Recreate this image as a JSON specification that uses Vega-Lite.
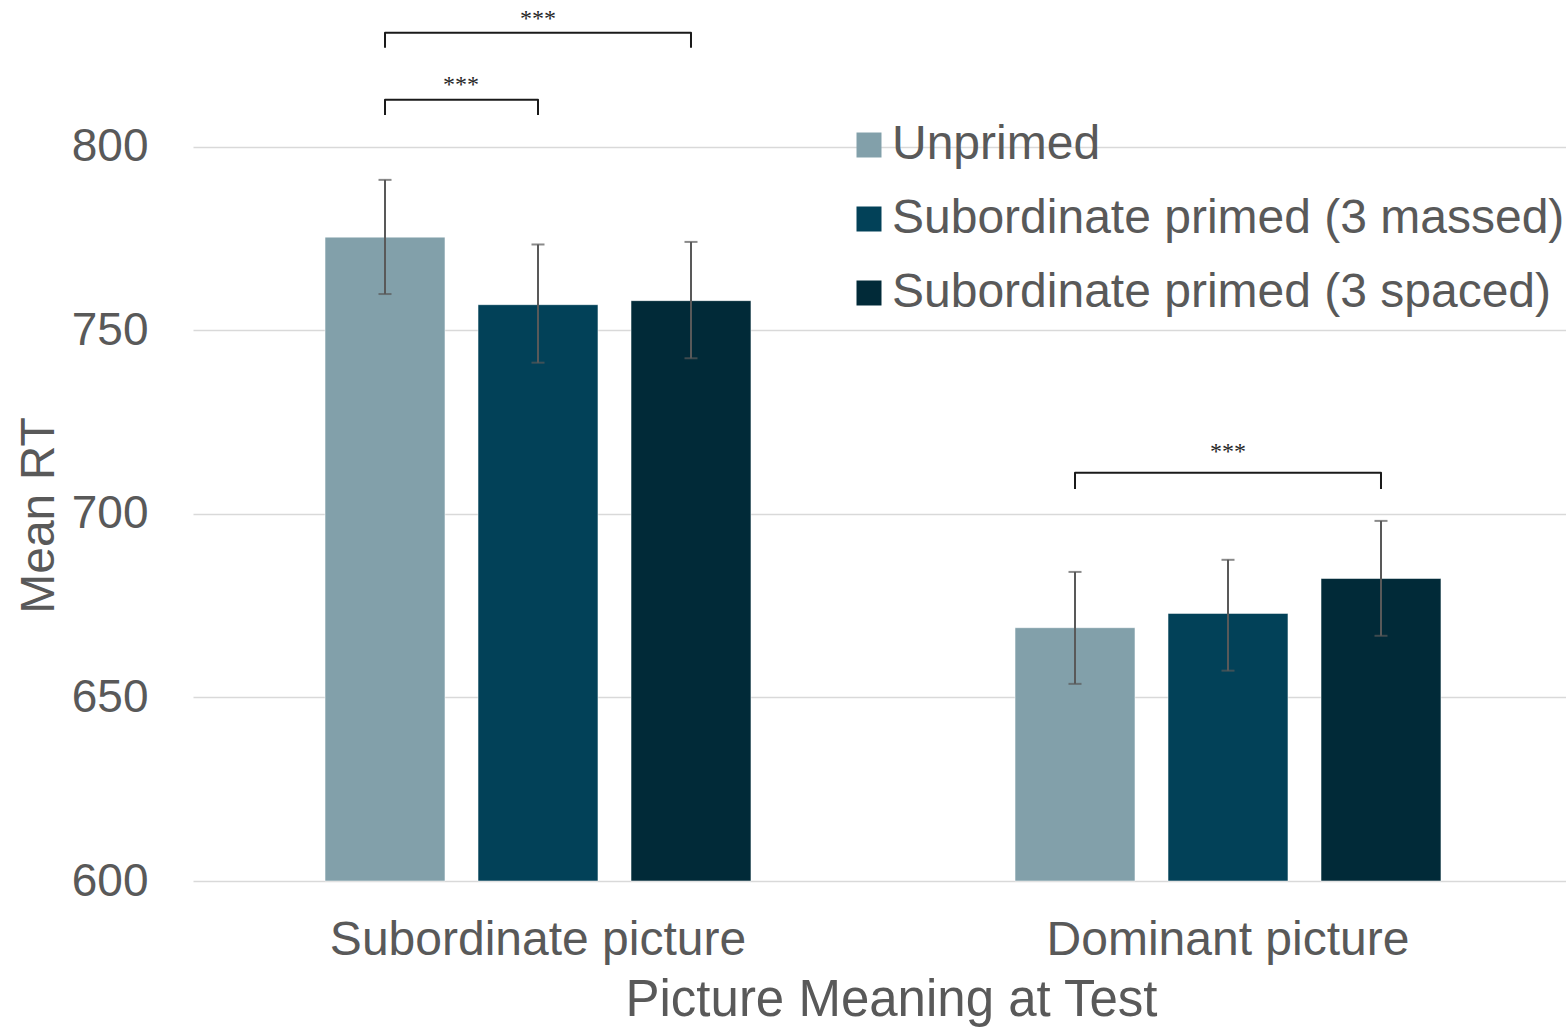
{
  "$schema": "https://vega.github.io/schema/vega-lite/v6.json",
  "width": 1374,
  "height": 881,
  "autosize": {"type": "none"},
  "padding": {"left": 192, "top": 0, "right": 0, "bottom": 153},
  "background": "white",
  "config": {"view": {"stroke": null}, "font": "Liberation Sans"},
  "datasets": {
    "bars": [
      {"picture": "Subordinate picture", "condition": "Unprimed", "mean": 775.4, "lo": 759.9, "hi": 791.0},
      {"picture": "Subordinate picture", "condition": "Subordinate primed (3 massed)", "mean": 757.0, "lo": 741.2, "hi": 773.4},
      {"picture": "Subordinate picture", "condition": "Subordinate primed (3 spaced)", "mean": 758.1, "lo": 742.4, "hi": 774.1},
      {"picture": "Dominant picture", "condition": "Unprimed", "mean": 669.0, "lo": 653.7, "hi": 684.2},
      {"picture": "Dominant picture", "condition": "Subordinate primed (3 massed)", "mean": 672.9, "lo": 657.3, "hi": 687.5},
      {"picture": "Dominant picture", "condition": "Subordinate primed (3 spaced)", "mean": 682.4, "lo": 666.8, "hi": 698.1}
    ],
    "brackets": [
      {"bracket": "a", "step": 1, "picture": "Subordinate picture", "condition": "Unprimed", "level": 827.0},
      {"bracket": "a", "step": 2, "picture": "Subordinate picture", "condition": "Unprimed", "level": 831.1},
      {"bracket": "a", "step": 3, "picture": "Subordinate picture", "condition": "Subordinate primed (3 spaced)", "level": 831.1},
      {"bracket": "a", "step": 4, "picture": "Subordinate picture", "condition": "Subordinate primed (3 spaced)", "level": 827.0},
      {"bracket": "b", "step": 1, "picture": "Subordinate picture", "condition": "Unprimed", "level": 808.7},
      {"bracket": "b", "step": 2, "picture": "Subordinate picture", "condition": "Unprimed", "level": 812.8},
      {"bracket": "b", "step": 3, "picture": "Subordinate picture", "condition": "Subordinate primed (3 massed)", "level": 812.8},
      {"bracket": "b", "step": 4, "picture": "Subordinate picture", "condition": "Subordinate primed (3 massed)", "level": 808.7},
      {"bracket": "c", "step": 1, "picture": "Dominant picture", "condition": "Unprimed", "level": 706.8},
      {"bracket": "c", "step": 2, "picture": "Dominant picture", "condition": "Unprimed", "level": 711.2},
      {"bracket": "c", "step": 3, "picture": "Dominant picture", "condition": "Subordinate primed (3 spaced)", "level": 711.2},
      {"bracket": "c", "step": 4, "picture": "Dominant picture", "condition": "Subordinate primed (3 spaced)", "level": 706.8}
    ],
    "starsMid": [
      {"picture": "Subordinate picture", "condition": "Subordinate primed (3 massed)", "level": 834.8, "label": "***"},
      {"picture": "Dominant picture", "condition": "Subordinate primed (3 massed)", "level": 716.8, "label": "***"}
    ],
    "starsPair": [
      {"picture": "Subordinate picture", "condition": "Unprimed", "level": 816.8, "label": "***"}
    ]
  },
  "layer": [
    {
      "data": {"name": "bars"},
      "mark": {"type": "bar", "stroke": "white", "strokeWidth": 1, "strokeOpacity": 0.5},
      "encoding": {
        "x": {
          "field": "picture", "type": "nominal",
          "sort": ["Subordinate picture", "Dominant picture"],
          "scale": {"paddingInner": 0, "paddingOuter": 0, "range": [1, 1381]},
          "title": "Picture Meaning at Test",
          "axis": {
            "labelAngle": 0, "ticks": false, "tickSize": 0, "domain": false,
            "labelFontSize": 48, "labelColor": "#595959", "labelPadding": 35, "labelLimit": 0,
            "titleFontSize": 51, "titleColor": "#595959", "titleFontWeight": "normal", "titlePadding": 11,
            "titleX": 699
          }
        },
        "xOffset": {
          "field": "condition", "type": "nominal",
          "sort": ["Unprimed", "Subordinate primed (3 massed)", "Subordinate primed (3 spaced)"],
          "scale": {"paddingInner": 0.216, "paddingOuter": 0.863}
        },
        "y": {
          "field": "mean", "type": "quantitative",
          "scale": {"domain": [600, 840], "zero": false, "nice": false},
          "title": "Mean RT",
          "axis": {
            "values": [600, 650, 700, 750, 800],
            "grid": true, "gridColor": "#d9d9d9", "gridWidth": 1.5,
            "ticks": false, "tickSize": 0, "domain": false,
            "labelFontSize": 46, "labelColor": "#595959", "labelPadding": 44,
            "titleFontSize": 48, "titleColor": "#595959", "titleFontWeight": "normal", "titlePadding": 8,
            "titleY": 515
          }
        },
        "y2": {"datum": 600},
        "color": {
          "field": "condition", "type": "nominal",
          "sort": ["Unprimed", "Subordinate primed (3 massed)", "Subordinate primed (3 spaced)"],
          "scale": {
            "domain": ["Unprimed", "Subordinate primed (3 massed)", "Subordinate primed (3 spaced)"],
            "range": ["#82A0AA", "#024158", "#012A38"]
          },
          "legend": {
            "orient": "none", "legendX": 653, "legendY": 121, "title": null,
            "symbolType": "square", "symbolSize": 625, "symbolStrokeWidth": 0,
            "labelFontSize": 48, "labelColor": "#595959", "labelFont": "Liberation Sans",
            "rowPadding": 26, "labelOffset": -1, "padding": 0, "labelLimit": 1000
          }
        }
      }
    },
    {
      "data": {"name": "bars"},
      "mark": {"type": "rule", "color": "#595959", "strokeWidth": 2},
      "encoding": {
        "x": {"field": "picture", "type": "nominal", "sort": ["Subordinate picture", "Dominant picture"], "title": "Picture Meaning at Test"},
        "xOffset": {"field": "condition", "type": "nominal", "sort": ["Unprimed", "Subordinate primed (3 massed)", "Subordinate primed (3 spaced)"]},
        "y": {"field": "lo", "type": "quantitative", "title": "Mean RT"},
        "y2": {"field": "hi"}
      }
    },
    {
      "data": {"name": "bars"},
      "mark": {"type": "tick", "color": "#595959", "thickness": 2, "size": 13, "orient": "horizontal"},
      "encoding": {
        "x": {"field": "picture", "type": "nominal", "sort": ["Subordinate picture", "Dominant picture"], "title": "Picture Meaning at Test"},
        "xOffset": {"field": "condition", "type": "nominal", "sort": ["Unprimed", "Subordinate primed (3 massed)", "Subordinate primed (3 spaced)"]},
        "y": {"field": "lo", "type": "quantitative", "title": "Mean RT"}
      }
    },
    {
      "data": {"name": "bars"},
      "mark": {"type": "tick", "color": "#595959", "thickness": 2, "size": 13, "orient": "horizontal"},
      "encoding": {
        "x": {"field": "picture", "type": "nominal", "sort": ["Subordinate picture", "Dominant picture"], "title": "Picture Meaning at Test"},
        "xOffset": {"field": "condition", "type": "nominal", "sort": ["Unprimed", "Subordinate primed (3 massed)", "Subordinate primed (3 spaced)"]},
        "y": {"field": "hi", "type": "quantitative", "title": "Mean RT"}
      }
    },
    {
      "data": {"name": "brackets"},
      "mark": {"type": "line", "color": "#1a1a1a", "strokeWidth": 2, "strokeJoin": "round"},
      "encoding": {
        "x": {"field": "picture", "type": "nominal", "sort": ["Subordinate picture", "Dominant picture"], "title": "Picture Meaning at Test"},
        "xOffset": {"field": "condition", "type": "nominal", "sort": ["Unprimed", "Subordinate primed (3 massed)", "Subordinate primed (3 spaced)"]},
        "y": {"field": "level", "type": "quantitative", "title": "Mean RT"},
        "detail": {"field": "bracket", "type": "nominal"},
        "order": {"field": "step", "type": "quantitative"}
      }
    },
    {
      "data": {"name": "starsMid"},
      "mark": {"type": "text", "font": "Liberation Serif", "fontSize": 24, "color": "#262626", "baseline": "middle", "align": "center"},
      "encoding": {
        "x": {"field": "picture", "type": "nominal", "sort": ["Subordinate picture", "Dominant picture"], "title": "Picture Meaning at Test"},
        "xOffset": {"field": "condition", "type": "nominal", "sort": ["Unprimed", "Subordinate primed (3 massed)", "Subordinate primed (3 spaced)"]},
        "y": {"field": "level", "type": "quantitative", "title": "Mean RT"},
        "text": {"field": "label"}
      }
    },
    {
      "data": {"name": "starsPair"},
      "mark": {"type": "text", "font": "Liberation Serif", "fontSize": 24, "color": "#262626", "baseline": "middle", "align": "center", "dx": 76},
      "encoding": {
        "x": {"field": "picture", "type": "nominal", "sort": ["Subordinate picture", "Dominant picture"], "title": "Picture Meaning at Test"},
        "xOffset": {"field": "condition", "type": "nominal", "sort": ["Unprimed", "Subordinate primed (3 massed)", "Subordinate primed (3 spaced)"]},
        "y": {"field": "level", "type": "quantitative", "title": "Mean RT"},
        "text": {"field": "label"}
      }
    }
  ]
}
